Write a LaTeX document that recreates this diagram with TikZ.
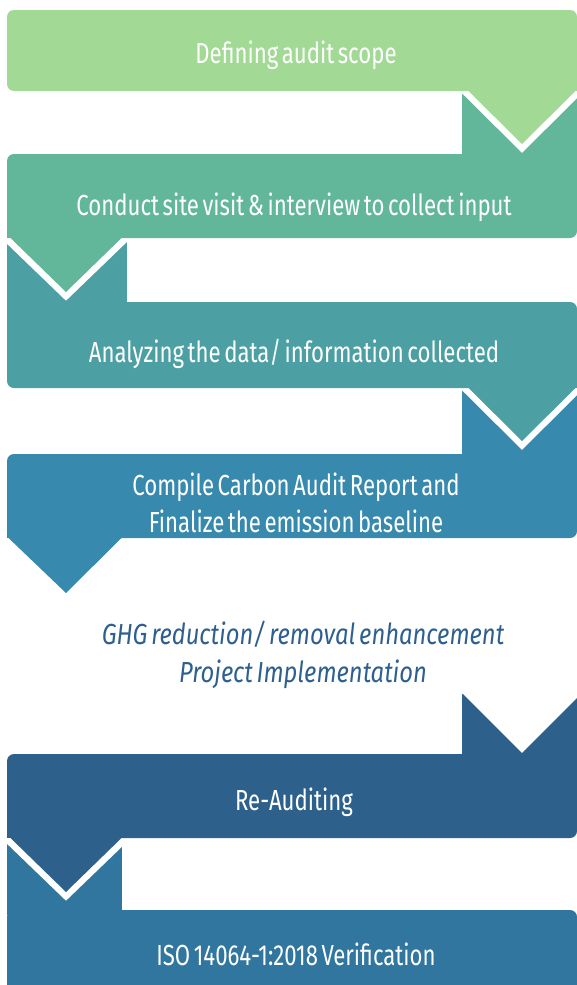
\documentclass[tikz,border=0pt]{standalone}
\usepackage{fontspec}
\setmainfont{Fira Sans}[FakeStretch=0.765, WordSpace=0.6]
\newfontfamily\midfont{Fira Sans}[FakeStretch=0.82, WordSpace=0.6]
\definecolor{cA}{HTML}{A1D995}
\definecolor{cB}{HTML}{62B69A}
\definecolor{cC}{HTML}{4CA0A4}
\definecolor{cD}{HTML}{378AAD}
\definecolor{cE}{HTML}{2E608C}
\definecolor{cF}{HTML}{31769E}
\definecolor{cT}{HTML}{2E5F8E}
\begin{document}
\begin{tikzpicture}[x=1pt,y=-1pt,
  band/.style={draw=white, line width=12.5pt, line join=miter, miter limit=10},
  steptext/.style={text=white, inner sep=0pt, font=\fontsize{29}{36.7}\selectfont},
  midtext/.style={text=cT, inner sep=0pt, font=\midfont\fontsize{29}{37.5}\selectfont\itshape}]
\useasboundingbox (0,0) rectangle (577,985);
\clip (0,0) rectangle (577,985);
% step 6
\fill[cF] (7,840) rectangle (122,915);
\fill[cF, rounded corners=7pt] (7,910) rectangle (577,1000);
% band around chevron of step 5
\draw[band] (-0.4,828) -- (66,892) -- (132.4,828);
% step 5
\fill[cE] (462,694) rectangle (577,760);
\fill[cE, rounded corners=7pt] (7,754) rectangle (577,838);
\fill[cE] (7,800) rectangle (122,838);
\fill[cE] (10,837.5) -- (66,892) -- (122,837.5) -- cycle;
\fill[white] (470,692) -- (522,744) -- (574,692) -- cycle;
\draw[band] (460,682) -- (522,744) -- (584,682);
% step 4
\fill[cD] (462,390) rectangle (577,460);
\fill[cD, rounded corners=7pt] (7,454) rectangle (577,538);
\fill[cD] (7,500) rectangle (122,538);
\fill[cD] (8,537.5) -- (66,593) -- (122,537.5) -- cycle;
% band around chevron of step 3
\draw[band] (458,377.5) -- (522,441) -- (586,377.5);
% step 3
\fill[cC] (7,240) rectangle (127,310);
\fill[cC, rounded corners=7pt] (7,302) rectangle (577,388);
\fill[cC] (500,340) rectangle (577,388);
\fill[cC] (468,387.5) -- (522,441) -- (576,387.5) -- cycle;
% band around chevron of step 2
\draw[band] (-0.4,228) -- (66,292) -- (132.4,228);
% step 2
\fill[cB] (462,93) rectangle (577,160);
\fill[cB, rounded corners=7pt] (7,154) rectangle (577,238);
\fill[cB] (7,200) rectangle (122,238);
\fill[cB] (10,237.5) -- (66,292) -- (122,237.5) -- cycle;
% band around chevron of step 1
\draw[band] (458,80.5) -- (522,144) -- (586,80.5);
% step 1
\fill[cA, rounded corners=7pt] (7,10) rectangle (577,91);
\fill[cA] (500,50) rectangle (577,91);
\fill[cA] (468,90.5) -- (522,144) -- (576,90.5) -- cycle;
% texts
\node[steptext, anchor=base] (t1) at (296,63) {Defining audit scope};
\node[steptext, anchor=base] (t2) at (294,215) {Conduct site visit \& interview to collect input};
\node[steptext, anchor=base] (t3) at (294,362) {Analyzing the data/ information collected};
\node[steptext, align=center] (t4) at (296,503) {Compile Carbon Audit Report and\\Finalize the emission baseline};
\node[midtext, align=center] (t5) at (303,655) {GHG reduction/ removal enhancement\\Project Implementation};
\node[steptext, anchor=base] (t6) at (294,810) {Re-Auditing};
\node[steptext, anchor=base] (t7) at (296,965) {ISO 14064-1:2018 Verification};
\end{tikzpicture}
\end{document}
